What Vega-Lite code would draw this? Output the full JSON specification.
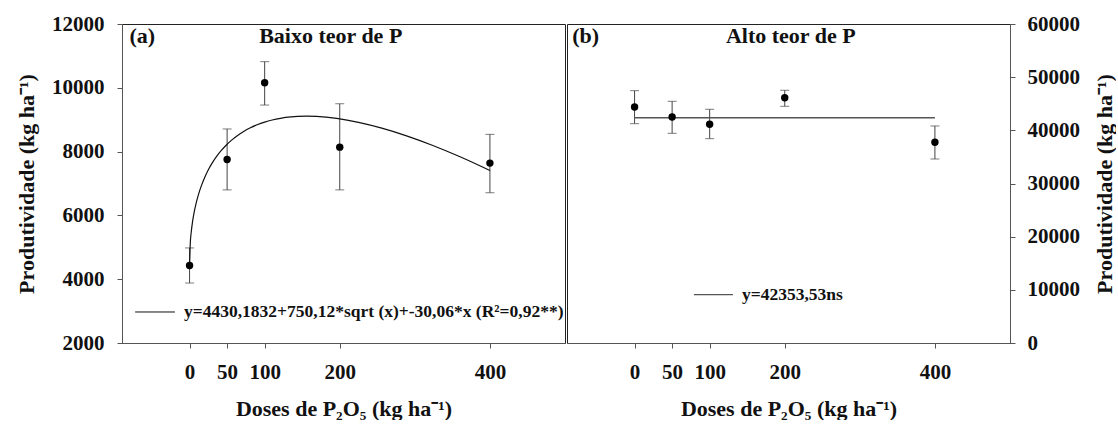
{
  "$schema": "https://vega.github.io/schema/vega-lite/v6.json",
  "background": "white",
  "padding": {"left": 15, "top": 12, "right": 0, "bottom": 0},
  "spacing": 0,
  "config": {
    "font": "Liberation Serif",
    "view": {"stroke": "#222", "strokeWidth": 1},
    "axis": {
      "labelFont": "Liberation Serif", "labelFontSize": 21, "labelFontWeight": "bold", "labelColor": "#111",
      "titleFont": "Liberation Serif", "titleFontSize": 22, "titleFontWeight": "bold", "titleColor": "#111",
      "grid": false, "domainColor": "#555", "tickColor": "#555", "tickSize": 5, "labelPadding": 12
    }
  },
  "datasets": {
    "pointsA": [
      {"dose": 0, "y": 4430, "lo": 3880, "hi": 4980},
      {"dose": 50, "y": 7750, "lo": 6800, "hi": 8710},
      {"dose": 100, "y": 10160, "lo": 9460, "hi": 10820},
      {"dose": 200, "y": 8140, "lo": 6800, "hi": 9500},
      {"dose": 400, "y": 7640, "lo": 6710, "hi": 8540}
    ],
    "pointsB": [
      {"dose": 0, "y": 44390, "lo": 41250, "hi": 47460},
      {"dose": 50, "y": 42510, "lo": 39440, "hi": 45460},
      {"dose": 100, "y": 41140, "lo": 38430, "hi": 43960},
      {"dose": 200, "y": 46140, "lo": 44520, "hi": 47530},
      {"dose": 400, "y": 37750, "lo": 34610, "hi": 40820}
    ],
    "curveA": [
      {"dose": 0, "y": 4430.18},
      {"dose": 1, "y": 5150.24},
      {"dose": 2, "y": 5430.88},
      {"dose": 4, "y": 5810.18},
      {"dose": 6, "y": 6087.23},
      {"dose": 9, "y": 6410.0},
      {"dose": 12, "y": 6667.95},
      {"dose": 16, "y": 6949.7},
      {"dose": 20, "y": 7183.62},
      {"dose": 25, "y": 7429.28},
      {"dose": 30, "y": 7636.96},
      {"dose": 36, "y": 7848.74},
      {"dose": 42, "y": 8028.99},
      {"dose": 49, "y": 8208.08},
      {"dose": 56, "y": 8360.2},
      {"dose": 64, "y": 8507.3},
      {"dose": 72, "y": 8630.84},
      {"dose": 81, "y": 8746.4},
      {"dose": 90, "y": 8841.03},
      {"dose": 100, "y": 8925.38},
      {"dose": 110, "y": 8990.91},
      {"dose": 121, "y": 9044.24},
      {"dose": 135, "y": 9087.69},
      {"dose": 144, "y": 9102.98},
      {"dose": 156, "y": 9109.69},
      {"dose": 169, "y": 9101.6},
      {"dose": 196, "y": 9040.1},
      {"dose": 225, "y": 8918.48},
      {"dose": 256, "y": 8736.74},
      {"dose": 289, "y": 8494.88},
      {"dose": 324, "y": 8192.9},
      {"dose": 361, "y": 7830.8},
      {"dose": 400, "y": 7408.58}
    ],
    "lineB": [
      {"dose": 0, "y": 42353.53},
      {"dose": 400, "y": 42353.53}
    ]
  },
  "hconcat": [
    {
      "width": 443,
      "height": 319,
      "layer": [
        {
          "data": {"name": "pointsA"},
          "mark": {"type": "rule", "color": "#444", "strokeWidth": 1},
          "encoding": {
            "x": {"field": "dose", "type": "quantitative", "title": "Doses de P₂O₅ (kg ha⁻¹)",
              "scale": {"domain": [-90, 500], "nice": false, "zero": false},
              "axis": {"values": [0, 50, 100, 200, 400], "format": "d", "labelPadding": 13, "titlePadding": 16}},
            "y": {"field": "lo", "type": "quantitative", "title": "Produtividade (kg ha⁻¹)",
              "scale": {"domain": [2000, 12000], "nice": false, "zero": false},
              "axis": {"values": [2000, 4000, 6000, 8000, 10000, 12000], "format": "d", "labelPadding": 13, "titlePadding": 13}},
            "y2": {"field": "hi"}
          }
        },
        {
          "data": {"name": "pointsA"},
          "mark": {"type": "tick", "orient": "horizontal", "size": 9, "thickness": 1, "color": "#444"},
          "encoding": {"x": {"field": "dose", "type": "quantitative"}, "y": {"field": "lo", "type": "quantitative"}}
        },
        {
          "data": {"name": "pointsA"},
          "mark": {"type": "tick", "orient": "horizontal", "size": 9, "thickness": 1, "color": "#444"},
          "encoding": {"x": {"field": "dose", "type": "quantitative"}, "y": {"field": "hi", "type": "quantitative"}}
        },
        {
          "data": {"name": "curveA"},
          "mark": {"type": "line", "color": "#111", "strokeWidth": 1.2, "interpolate": "monotone"},
          "encoding": {"x": {"field": "dose", "type": "quantitative"}, "y": {"field": "y", "type": "quantitative"}}
        },
        {
          "data": {"name": "pointsA"},
          "mark": {"type": "point", "filled": true, "color": "#000", "size": 55, "opacity": 1},
          "encoding": {"x": {"field": "dose", "type": "quantitative"}, "y": {"field": "y", "type": "quantitative"}}
        },
        {
          "data": {"values": [{}]},
          "mark": {"type": "text", "align": "left", "baseline": "alphabetic", "fontSize": 22, "fontWeight": "bold", "font": "Liberation Serif", "color": "#111"},
          "encoding": {"x": {"datum": -80}, "y": {"datum": 11400}, "text": {"value": "(a)"}}
        },
        {
          "data": {"values": [{}]},
          "mark": {"type": "text", "align": "center", "baseline": "alphabetic", "fontSize": 22, "fontWeight": "bold", "font": "Liberation Serif", "color": "#111"},
          "encoding": {"x": {"datum": 188}, "y": {"datum": 11400}, "text": {"value": "Baixo teor de P"}}
        },
        {
          "data": {"values": [{}]},
          "mark": {"type": "rule", "color": "#111", "strokeWidth": 1},
          "encoding": {"x": {"datum": -72.5}, "x2": {"datum": -19.5}, "y": {"datum": 2972}}
        },
        {
          "data": {"values": [{}]},
          "mark": {"type": "text", "align": "left", "baseline": "middle", "fontSize": 17.5, "fontWeight": "bold", "font": "Liberation Serif", "color": "#111"},
          "encoding": {"x": {"datum": -7.5}, "y": {"datum": 2972}, "text": {"value": "y=4430,1832+750,12*sqrt (x)+-30,06*x (R²=0,92**)"}}
        }
      ]
    },
    {
      "width": 443,
      "height": 319,
      "layer": [
        {
          "data": {"name": "pointsB"},
          "mark": {"type": "rule", "color": "#444", "strokeWidth": 1},
          "encoding": {
            "x": {"field": "dose", "type": "quantitative", "title": "Doses de P₂O₅ (kg ha⁻¹)",
              "scale": {"domain": [-90, 500], "nice": false, "zero": false},
              "axis": {"values": [0, 50, 100, 200, 400], "format": "d", "labelPadding": 13, "titlePadding": 16}},
            "y": {"field": "lo", "type": "quantitative", "title": "Produtividade (kg ha⁻¹)",
              "scale": {"domain": [0, 60000], "nice": false, "zero": false},
              "axis": {"orient": "right", "values": [0, 10000, 20000, 30000, 40000, 50000, 60000], "format": "d", "labelPadding": 12, "titlePadding": 15, "titleAngle": 270, "titleBaseline": "top"}},
            "y2": {"field": "hi"}
          }
        },
        {
          "data": {"name": "pointsB"},
          "mark": {"type": "tick", "orient": "horizontal", "size": 9, "thickness": 1, "color": "#444"},
          "encoding": {"x": {"field": "dose", "type": "quantitative"}, "y": {"field": "lo", "type": "quantitative"}}
        },
        {
          "data": {"name": "pointsB"},
          "mark": {"type": "tick", "orient": "horizontal", "size": 9, "thickness": 1, "color": "#444"},
          "encoding": {"x": {"field": "dose", "type": "quantitative"}, "y": {"field": "hi", "type": "quantitative"}}
        },
        {
          "data": {"name": "lineB"},
          "mark": {"type": "line", "color": "#555", "strokeWidth": 1.5},
          "encoding": {"x": {"field": "dose", "type": "quantitative"}, "y": {"field": "y", "type": "quantitative"}}
        },
        {
          "data": {"name": "pointsB"},
          "mark": {"type": "point", "filled": true, "color": "#000", "size": 55, "opacity": 1},
          "encoding": {"x": {"field": "dose", "type": "quantitative"}, "y": {"field": "y", "type": "quantitative"}}
        },
        {
          "data": {"values": [{}]},
          "mark": {"type": "text", "align": "left", "baseline": "alphabetic", "fontSize": 22, "fontWeight": "bold", "font": "Liberation Serif", "color": "#111"},
          "encoding": {"x": {"datum": -83}, "y": {"datum": 56400}, "text": {"value": "(b)"}}
        },
        {
          "data": {"values": [{}]},
          "mark": {"type": "text", "align": "center", "baseline": "alphabetic", "fontSize": 22, "fontWeight": "bold", "font": "Liberation Serif", "color": "#111"},
          "encoding": {"x": {"datum": 208}, "y": {"datum": 56400}, "text": {"value": "Alto teor de P"}}
        },
        {
          "data": {"values": [{}]},
          "mark": {"type": "rule", "color": "#555", "strokeWidth": 1.2},
          "encoding": {"x": {"datum": 79}, "x2": {"datum": 131}, "y": {"datum": 9085}}
        },
        {
          "data": {"values": [{}]},
          "mark": {"type": "text", "align": "left", "baseline": "middle", "fontSize": 17.5, "fontWeight": "bold", "font": "Liberation Serif", "color": "#111"},
          "encoding": {"x": {"datum": 143}, "y": {"datum": 9085}, "text": {"value": "y=42353,53ns"}}
        }
      ]
    }
  ]
}
